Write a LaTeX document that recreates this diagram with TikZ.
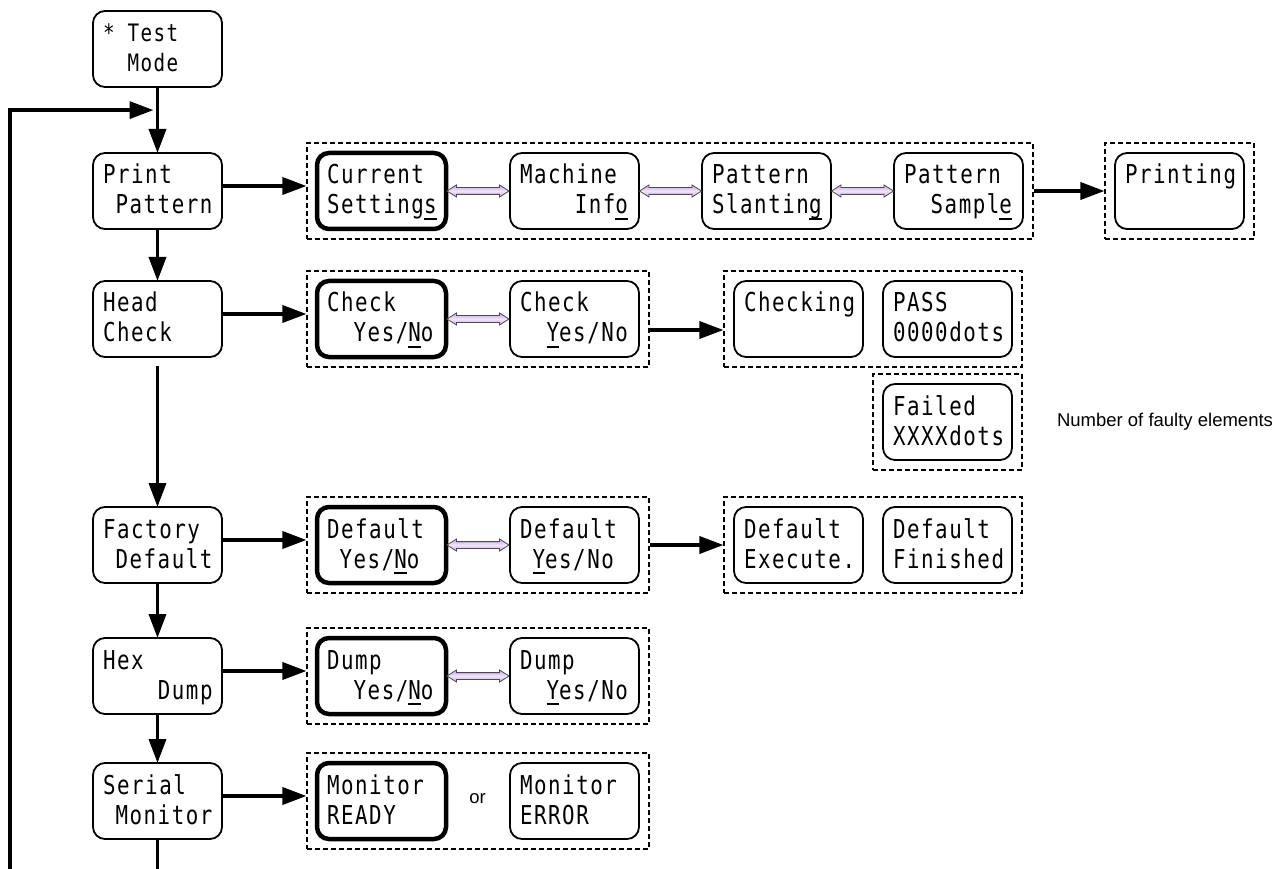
\documentclass[tikz,border=0pt]{standalone}
\usepackage{fontspec}
\setmainfont{Liberation Sans}
\newfontfamily\lcd[FakeStretch=0.8,LetterSpace=6]{DejaVu Sans Mono}
\usetikzlibrary{arrows.meta,shapes.arrows,fit,calc}
\definecolor{lav}{RGB}{196,160,236}
\newcommand\ulc[1]{\setbox0\hbox{#1}\rlap{\rule[-6pt]{\wd0}{1.6pt}}\box0}
\newcommand\lcdtext[3][26]{\parbox[c][76pt][t]{129pt}{\leftskip=10pt\rightskip=0pt plus 1fil\parindent=0pt\lcd\fontsize{#1pt}{30pt}\selectfont\rule{0pt}{31pt}#2\par #3}}
\tikzset{
  lcdbox/.style={draw, rounded corners=12pt, line width=1.8pt, minimum width=129pt, minimum height=76pt, inner sep=0pt, outer sep=0pt, anchor=north west},
  selbox/.style={lcdbox, line width=4.5pt},
  grp/.style={draw, dash pattern=on 5pt off 3pt, line width=1.1pt, inner sep=10pt},
  arr/.style={line width=3.5pt, -{Triangle[length=24pt,width=17pt]}},
  plain/.style={line width=3.5pt},
  dbl/.style={double arrow, draw=black!70, line width=0.8pt, top color=lav, bottom color=lav, middle color=lav!25, minimum height=62pt, inner xsep=0pt, inner ysep=3pt, double arrow head extend=2.6pt, double arrow tip angle=65},
  note/.style={font=\fontsize{18.5pt}{22pt}\selectfont, inner sep=0pt}
}
\begin{document}
\begin{tikzpicture}[x=1pt,y=-1pt]
\useasboundingbox (0,0) rectangle (1286,869);
% main column
\node[lcdbox] (test) at (93,11) {\lcdtext[24]{* Test}{\phantom{XX}Mode}};
\node[lcdbox] (print) at (93,153) {\lcdtext{Print}{\phantom{X}Pattern}};
\node[lcdbox] (head) at (93,281) {\lcdtext{Head}{Check}};
\node[lcdbox] (factory) at (93,507) {\lcdtext{Factory}{\phantom{X}Default}};
\node[lcdbox] (hex) at (93,638) {\lcdtext{Hex}{\phantom{XXXX}Dump}};
\node[lcdbox] (serial) at (93,763) {\lcdtext{Serial}{\phantom{X}Monitor}};
% row print pattern
\node[selbox] (cur) at (317,153) {\lcdtext{Current}{Setting\ulc{s}}};
\node[lcdbox] (mach) at (510,153) {\lcdtext{Machine}{\phantom{XXXX}Inf\ulc{o}}};
\node[lcdbox] (slant) at (702,153) {\lcdtext{Pattern}{Slantin\ulc{g}}};
\node[lcdbox] (sample) at (894,153) {\lcdtext{Pattern}{\phantom{XX}Sampl\ulc{e}}};
\node[lcdbox] (printing) at (1115,153) {\lcdtext{Printing}{}};
% row head check
\node[selbox] (chk1) at (317,281) {\lcdtext{Check}{\phantom{XX}Yes/\ulc{N}o}};
\node[lcdbox] (chk2) at (510,281) {\lcdtext{Check}{\phantom{XX}\ulc{Y}es/No}};
\node[lcdbox] (checking) at (734,281) {\lcdtext{Checking}{}};
\node[lcdbox] (pass) at (883,281) {\lcdtext{PASS}{0000dots}};
\node[lcdbox] (failed) at (883,384) {\lcdtext{Failed}{XXXXdots}};
% row factory default
\node[selbox] (def1) at (317,507) {\lcdtext{Default}{\phantom{X}Yes/\ulc{N}o}};
\node[lcdbox] (def2) at (510,507) {\lcdtext{Default}{\phantom{X}\ulc{Y}es/No}};
\node[lcdbox] (exe) at (734,507) {\lcdtext{Default}{Execute.}};
\node[lcdbox] (fin) at (883,507) {\lcdtext{Default}{Finished}};
% row hex dump
\node[selbox] (dump1) at (317,638) {\lcdtext{Dump}{\phantom{XX}Yes/\ulc{N}o}};
\node[lcdbox] (dump2) at (510,638) {\lcdtext{Dump}{\phantom{XX}\ulc{Y}es/No}};
% row serial monitor
\node[selbox] (mon1) at (317,763) {\lcdtext{Monitor}{READY}};
\node[lcdbox] (mon2) at (510,763) {\lcdtext{Monitor}{ERROR}};
\node[note, anchor=base] (ortxt) at (477.5,803) {or};
\node[note, anchor=base] (nfe) at (1165,426) {Number of faulty elements};
% groups
\node[grp, fit=(cur)(sample)] (g1) {};
\node[grp, fit=(printing)] (gp) {};
\node[grp, fit=(chk1)(chk2)] (g2) {};
\node[grp, fit=(checking)(pass)] (g3) {};
\node[grp, fit=(failed)] (gf) {};
\node[grp, fit=(def1)(def2)] (g4) {};
\node[grp, fit=(exe)(fin)] (g5) {};
\node[grp, fit=(dump1)(dump2)] (g6) {};
\node[grp, fit=(mon1)(mon2)] (g7) {};
% free ends
\coordinate (loopbot) at (10,869);
\coordinate (serbot) at (157.5,869);
% vertical flow
\draw[arr] (test) -- (print);
\draw[arr] (print) -- (head);
\draw[arr, shorten <=9pt] (head) -- (factory);
\draw[arr] (factory) -- (hex);
\draw[arr] (hex) -- (serial);
\draw[plain] (serial) -- (serbot);
\draw[arr, shorten >=4pt, line join=miter] (loopbot) |- ($(test.south)!0.35!(print.north)$);
% horizontal flow
\draw[arr] ([yshift=5pt]print.east) -- ([yshift=5pt]print.east -| g1.west);
\draw[arr] ([yshift=5pt]head.east) -- ([yshift=5pt]head.east -| g2.west);
\draw[arr] ([yshift=5pt]factory.east) -- ([yshift=5pt]factory.east -| g4.west);
\draw[arr] ([yshift=5pt]hex.east) -- ([yshift=5pt]hex.east -| g6.west);
\draw[arr] ([yshift=5pt]serial.east) -- ([yshift=5pt]serial.east -| g7.west);
\draw[arr] (g1.east) -- (gp.west);
\draw[arr] ([yshift=-11pt]g2.east) -- ([yshift=-11pt]g2.east -| g3.west);
\draw[arr] (g4.east) -- (g5.west);
% toggles
\path (cur.east) -- (mach.west) node[midway, dbl] (d1) {};
\path (mach.east) -- (slant.west) node[midway, dbl] (d2) {};
\path (slant.east) -- (sample.west) node[midway, dbl] (d3) {};
\path (chk1.east) -- (chk2.west) node[midway, dbl] (d4) {};
\path (def1.east) -- (def2.west) node[midway, dbl] (d5) {};
\path (dump1.east) -- (dump2.west) node[midway, dbl] (d6) {};
\end{tikzpicture}
\end{document}
